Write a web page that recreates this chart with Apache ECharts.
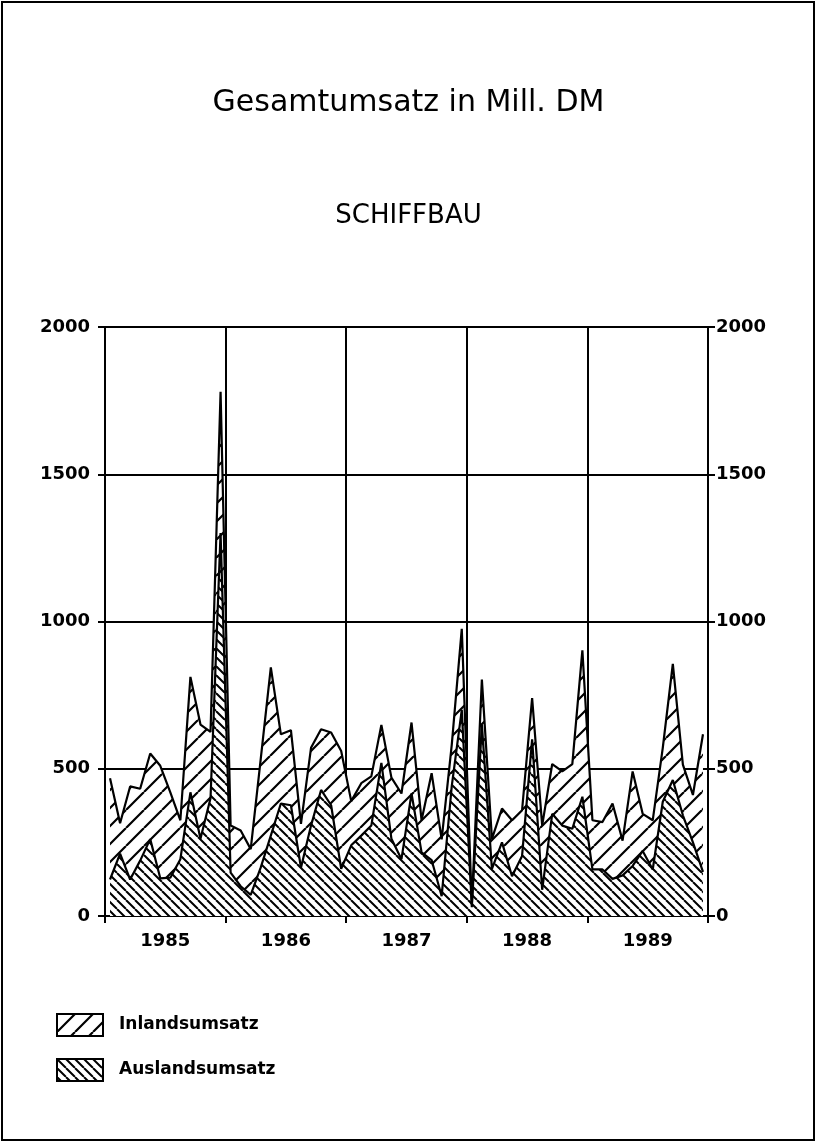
<!DOCTYPE html>
<html><head><meta charset="utf-8">
<script src="https://cdn.jsdelivr.net/npm/echarts@6/dist/echarts.min.js"></script>
<style>html,body{margin:0;padding:0;background:#fff}#c{width:817px;height:1143px}</style>
</head><body><div id="c"></div>
<script>
// ---- data (Mill. DM, monthly 1985-1989) ----
const years = ['1985', '1986', '1987', '1988', '1989'];
const monthNames = ['01','02','03','04','05','06','07','08','09','10','11','12'];
const months = [];
years.forEach(y => monthNames.forEach(m => months.push(y + '-' + m)));

const auslandsumsatz = [
  124, 212, 124, 188, 261, 128, 130, 193, 420, 262, 400, 1300,
  147, 101, 72, 165, 273, 382, 376, 164, 307, 428, 376, 160,
  240, 273, 307, 520, 262, 193, 416, 216, 190, 67, 440, 700,
  30, 650, 160, 250, 135, 204, 600, 89, 347, 307, 296, 405,
  158, 158, 126, 138, 170, 221, 158, 388, 462, 342, 250, 150
];
const inlandsumsatz = [
  344, 103, 316, 244, 291, 382, 290, 132, 392, 388, 225, 480,
  160, 189, 155, 369, 571, 235, 255, 149, 264, 206, 247, 400,
  150, 178, 167, 129, 208, 223, 241, 109, 295, 193, 140, 275,
  10, 153, 102, 115, 190, 155, 140, 218, 169, 184, 220, 497,
  167, 161, 256, 118, 321, 126, 167, 183, 394, 172, 161, 467
];
const yMin = 0, yMax = 2000, yStep = 500;

// ---- hatch patterns ----
function hatch(size, dir, lw) {
  const c = document.createElement('canvas');
  c.width = size; c.height = size;
  const g = c.getContext('2d');
  g.fillStyle = '#fff'; g.fillRect(0, 0, size, size);
  g.strokeStyle = '#000'; g.lineWidth = lw; g.beginPath();
  for (let k = -1; k <= 1; k++) {
    if (dir === '/') { g.moveTo(k * size, size); g.lineTo(k * size + size, 0); }
    else { g.moveTo(k * size, 0); g.lineTo(k * size + size, size); }
  }
  g.stroke();
  return { image: c, repeat: 'repeat' };
}
const patInland = hatch(18, '/', 2.2);
const patAusland = hatch(9, '\\', 2);

const numFont = { color: '#000', fontFamily: 'DejaVu Sans', fontWeight: 'bold', fontSize: 18,
                  formatter: v => String(v) };
const blk = { color: '#000', width: 2 };

const chart = echarts.init(document.getElementById('c'), null, { renderer: 'canvas' });
chart.setOption({
  animation: false,
  backgroundColor: '#fff',
  title: [
    { text: 'Gesamtumsatz in Mill. DM', left: 'center', top: 83,
      textStyle: { color: '#000', fontFamily: 'DejaVu Sans', fontWeight: 'normal', fontSize: 30 } },
    { text: 'SCHIFFBAU', left: 'center', top: 198,
      textStyle: { color: '#000', fontFamily: 'DejaVu Sans', fontWeight: 'normal', fontSize: 26 } }
  ],
  graphic: [
    { type: 'rect', shape: { x: 2, y: 2, width: 812, height: 1138 }, style: { fill: 'none', stroke: '#000', lineWidth: 2 }, silent: true }
  ],
  legend: {
    orient: 'vertical', left: 56, top: 1013, itemWidth: 46, itemHeight: 22, itemGap: 21,
    padding: 0,
    data: [
      { name: 'Inlandsumsatz', icon: 'rect', itemStyle: { color: patInland, borderColor: '#000', borderWidth: 2 } },
      { name: 'Auslandsumsatz', icon: 'rect', itemStyle: { color: patAusland, borderColor: '#000', borderWidth: 2 } }
    ],
    formatter: '{a|{name}}',
    textStyle: { rich: { a: { color: '#000', fontFamily: 'DejaVu Sans', fontWeight: 'bold', fontSize: 17, padding: [0, 0, 0, 11] } } }
  },
  grid: { left: 105, right: 109, top: 327, bottom: 227, containLabel: false },
  xAxis: [
    { type: 'category', data: months, boundaryGap: true, show: false },
    { type: 'category', data: years, position: 'bottom', boundaryGap: true,
      axisLine: { show: true, lineStyle: blk },
      axisTick: { show: true, length: 7, lineStyle: blk },
      splitLine: { show: true, lineStyle: blk },
      axisLabel: { color: '#000', fontFamily: 'DejaVu Sans', fontWeight: 'bold', fontSize: 18, margin: 16, interval: 0 } }
  ],
  yAxis: [
    { type: 'value', min: yMin, max: yMax, interval: yStep, position: 'left',
      axisLine: { show: true, lineStyle: blk },
      axisTick: { show: true, length: 7, lineStyle: blk },
      splitLine: { show: true, lineStyle: blk },
      axisLabel: Object.assign({ margin: 15 }, numFont) },
    { type: 'value', min: yMin, max: yMax, interval: yStep, position: 'right',
      axisLine: { show: true, lineStyle: blk },
      axisTick: { show: true, length: 7, lineStyle: blk },
      splitLine: { show: false },
      axisLabel: Object.assign({ margin: 8 }, numFont) }
  ],
  series: [
    { name: 'Auslandsumsatz', type: 'line', stack: 'umsatz', data: auslandsumsatz,
      xAxisIndex: 0, yAxisIndex: 0, symbol: 'none',
      lineStyle: { color: '#000', width: 2.2 }, itemStyle: { color: '#000' },
      areaStyle: { color: patAusland, opacity: 1 } },
    { name: 'Inlandsumsatz', type: 'line', stack: 'umsatz', data: inlandsumsatz,
      xAxisIndex: 0, yAxisIndex: 0, symbol: 'none',
      lineStyle: { color: '#000', width: 2.2 }, itemStyle: { color: '#000' },
      areaStyle: { color: patInland, opacity: 1 } }
  ]
});
</script></body></html>
